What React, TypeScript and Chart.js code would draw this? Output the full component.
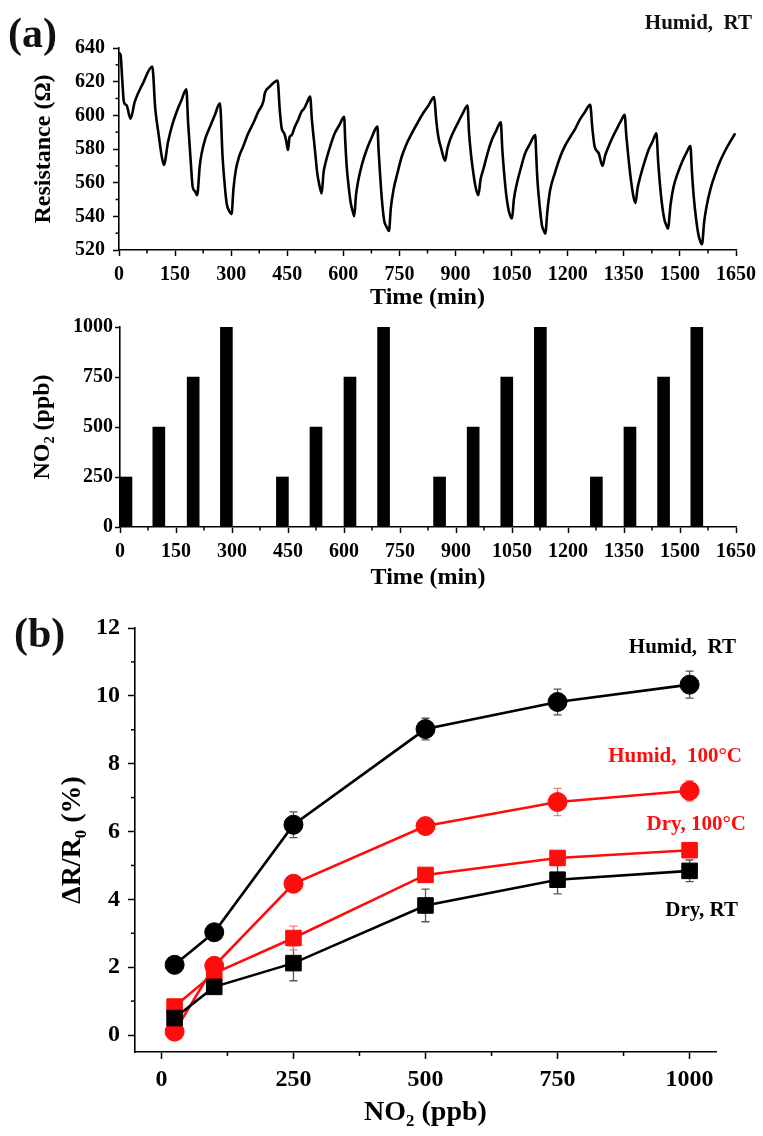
import React, { useEffect, useRef } from 'react';
import { Chart, registerables } from 'chart.js';
Chart.register(...registerables);

const FONT = '"Liberation Serif", "Times New Roman", "DejaVu Serif", serif';

// ---------- (a) top: resistance vs time ----------
const resTime = [
  0, 4, 9, 13, 20, 31, 42, 64, 89,
  97, 107, 114, 120, 131, 142, 154, 167, 180,
  185, 192, 197, 203, 209, 216, 221, 232, 243, 256, 270,
  277, 283, 288, 295, 301, 306, 312, 322, 332, 345, 359, 372, 386, 390, 403, 412, 424,
  430, 435, 442, 447, 452, 456, 462, 470, 479, 488, 495, 502, 511,
  516, 524, 530, 535, 542, 547, 552, 564, 577, 590, 602,
  605, 609, 615, 620, 625, 629, 634, 640, 650, 662, 676, 691,
  694, 698, 703, 709, 715, 722, 727, 734, 745, 756, 769, 783, 797, 814, 828, 843,
  848, 854, 862, 872, 878, 885, 896, 908, 919, 932,
  936, 941, 948, 954, 961, 967, 975, 985, 997, 1009, 1021,
  1025, 1030, 1036, 1042, 1046, 1051, 1056, 1064, 1075, 1086, 1099, 1113,
  1116, 1119, 1125, 1131, 1136, 1140, 1146, 1153, 1166, 1180, 1193, 1207, 1220, 1232, 1246, 1260,
  1266, 1272, 1283, 1293, 1300, 1309, 1320, 1332, 1342, 1352,
  1357, 1363, 1370, 1376, 1381, 1387, 1394, 1405, 1416, 1427, 1437,
  1442, 1448, 1454, 1459, 1464, 1468, 1475, 1483, 1494, 1506, 1517, 1528,
  1532, 1537, 1543, 1549, 1554, 1559, 1565, 1571, 1582, 1595, 1608, 1622, 1635, 1648,
];
const resOhm = [
  637, 636, 620, 608, 606, 598, 608, 619, 629,
  604, 587, 576, 570.5, 584, 594, 602, 609, 615.5,
  595, 572, 557.5, 555, 552.6, 570, 577.4, 587, 593, 600, 607.2,
  575.4, 558, 547.6, 543, 541.3, 556, 567, 576, 581.4, 589, 595.3, 602, 608.2, 613.2, 617, 619, 620.7,
  603, 592.3, 589.3, 585, 579.4, 587, 588.3, 593, 597.3, 602.2, 604, 607.2, 611.2,
  597, 579.4, 566, 559.5, 553.6, 566, 571.5, 581, 589.3, 594.5, 599.2,
  585, 569.4, 556, 547.6, 543, 540.1, 553, 561.5, 571, 579.4, 587, 593.3,
  580, 565.5, 550, 537.7, 534, 531.3, 545, 555.6, 566, 575.4, 583, 589.3, 595, 601.5, 606, 610.8,
  598, 587.3, 580, 573, 580, 585.3, 591, 596.3, 601, 605.8,
  590, 577.4, 565, 557, 552.6, 562, 568.5, 577, 585.3, 591, 595.9,
  580, 565.5, 552, 543.6, 540.5, 538.7, 550, 559.5, 569, 577.4, 583, 588.3,
  575, 561.5, 546, 534.7, 531.5, 529.7, 544, 555.6, 566, 575.4, 582, 587.3, 592, 597.3, 602, 606.2,
  592, 581.4, 577.4, 569.9, 576, 581.4, 587, 592.3, 596.5, 600.3,
  587, 573.4, 560, 551.5, 548, 557, 563.5, 572, 579.4, 584.5, 589.3,
  572, 555.6, 544, 537.7, 534.5, 532.7, 547, 557.5, 565.5, 572.4, 577.5, 581.8,
  567, 551.6, 539, 529.7, 525.5, 523.4, 537, 545.6, 556.5, 565.5, 573, 579.4, 584.5, 589.3,
];
const timeTicks = [0, 150, 300, 450, 600, 750, 900, 1050, 1200, 1350, 1500, 1650];
const timeMinor = [75, 225, 375, 525, 675, 825, 975, 1125, 1275, 1425, 1575];
const resTicks = [520, 540, 560, 580, 600, 620, 640];
const resMinor = [530, 550, 570, 590, 610, 630];

// ---------- (a) middle: NO2 pulses ----------
const pulseTime = [16, 104, 196, 285, 435, 525, 616, 706, 856, 946, 1036, 1126, 1276, 1366, 1456, 1545];
const pulsePpb = [250, 500, 750, 1000, 250, 500, 750, 1000, 250, 500, 750, 1000, 250, 500, 750, 1000];
const ppbTicks = [0, 250, 500, 750, 1000];

// ---------- (b) response ----------
const no2Levels = [25, 100, 250, 500, 750, 1000];
const humidRT = [2.07, 3.03, 6.2, 9.02, 9.82, 10.33];
const humidRTErr = [0.22, 0.12, 0.38, 0.32, 0.38, 0.4];
const humid100 = [0.1, 2.04, 4.46, 6.16, 6.87, 7.2];
const humid100Err = [0.08, 0.15, 0.15, 0.12, 0.4, 0.3];
const dry100 = [0.84, 1.82, 2.86, 4.72, 5.22, 5.45];
const dry100Err = [0.1, 0.1, 0.35, 0.12, 0.12, 0.12];
const dryRT = [0.5, 1.42, 2.12, 3.82, 4.58, 4.84];
const dryRTErr = [0.1, 0.1, 0.52, 0.48, 0.42, 0.32];
const no2Ticks = [0, 250, 500, 750, 1000];
const no2Minor = [125, 375, 625, 875];
const respTicks = [0, 2, 4, 6, 8, 10, 12];
const respMinor = [1, 3, 5, 7, 9, 11];

const font = (size: number) => ({ family: FONT, size, weight: 'bold' as const });

const minorTicksPlugin = {
  id: 'minorTicks',
  afterDraw(chart: any, _args: any, opts: any) {
    const ctx = chart.ctx;
    (opts.list || []).forEach((m: any) => {
      const s = chart.scales[m.axis];
      ctx.save();
      ctx.strokeStyle = '#000';
      ctx.lineWidth = 1.5;
      m.values.forEach((v: number) => {
        const p = s.getPixelForValue(v);
        ctx.beginPath();
        if (s.isHorizontal()) {
          ctx.moveTo(p, s.top);
          ctx.lineTo(p, s.top + m.len);
        } else {
          ctx.moveTo(s.right, p);
          ctx.lineTo(s.right - m.len, p);
        }
        ctx.stroke();
      });
      ctx.restore();
    });
  },
};

const labelsPlugin = {
  id: 'labels',
  afterDraw(chart: any, _args: any, opts: any) {
    const ctx = chart.ctx;
    (opts.items || []).forEach((it: any) => {
      ctx.save();
      ctx.font = `bold ${it.size}px ${FONT}`;
      ctx.fillStyle = it.color || '#000';
      ctx.textAlign = it.align || 'left';
      ctx.textBaseline = 'middle';
      ctx.fillText(it.text, it.x, it.y);
      ctx.restore();
    });
  },
};

const errorBarsPlugin = {
  id: 'errorBars',
  beforeDatasetsDraw(chart: any) {
    const ctx = chart.ctx;
    const ys = chart.scales.y;
    chart.data.datasets.forEach((ds: any, i: number) => {
      if (!ds.errors) return;
      const meta = chart.getDatasetMeta(i);
      ctx.save();
      ctx.strokeStyle = ds.errorColor;
      ctx.lineWidth = 1.3;
      meta.data.forEach((pt: any, j: number) => {
        const v = ds.data[j].y;
        const e = ds.errors[j];
        const y1 = ys.getPixelForValue(v + e);
        const y2 = ys.getPixelForValue(v - e);
        ctx.beginPath();
        ctx.moveTo(pt.x, y1);
        ctx.lineTo(pt.x, y2);
        ctx.moveTo(pt.x - 4, y1);
        ctx.lineTo(pt.x + 4, y1);
        ctx.moveTo(pt.x - 4, y2);
        ctx.lineTo(pt.x + 4, y2);
        ctx.stroke();
      });
      ctx.restore();
    });
  },
};

const axisBase = (tickSize: number, tl: number, pad: number) => ({
  grid: { drawOnChartArea: false, tickLength: tl, tickColor: '#000', tickWidth: 1.5 },
  border: { color: '#000', width: 1.6 },
  ticks: {
    font: font(tickSize),
    color: '#000',
    padding: pad,
    autoSkip: false,
    maxRotation: 0,
    callback: (v: any) => String(v),
  },
});

function topConfig(): any {
  return {
    type: 'line',
    data: {
      datasets: [
        {
          data: resTime.map((t, i) => ({ x: t, y: resOhm[i] })),
          borderColor: '#000',
          borderWidth: 2.6,
          pointRadius: 0,
          cubicInterpolationMode: 'monotone',
          fill: false,
        },
      ],
    },
    options: {
      responsive: false,
      animation: false,
      layout: { padding: { top: 48, right: 27, bottom: 0, left: 0 } },
      plugins: {
        legend: { display: false },
        tooltip: { enabled: false },
        minorTicks: {
          list: [
            { axis: 'x', values: timeMinor, len: 3.5 },
            { axis: 'y', values: resMinor, len: 3.5 },
          ],
        },
        labels: {
          items: [
            { text: '(a)', x: 8, y: 36, size: 42, color: '#111' },
            { text: 'Humid,  RT', x: 752, y: 24, size: 21, align: 'right', color: '#111' },
          ],
        },
      },
      scales: {
        x: {
          type: 'linear',
          min: 0,
          max: 1650,
          ...axisBase(20, 6, 7),
          afterBuildTicks: (s: any) => { s.ticks = timeTicks.map((v) => ({ value: v })); },
          afterFit: (s: any) => { s.height = 62; },
          title: { display: true, text: 'Time (min)', font: font(24), color: '#000', padding: { top: 0, bottom: 0 } },
        },
        y: {
          type: 'linear',
          min: 520,
          max: 640,
          ...axisBase(20, 6, 8),
          afterBuildTicks: (s: any) => { s.ticks = resTicks.map((v) => ({ value: v })); },
          afterFit: (s: any) => { s.width = 119; },
          title: { display: true, text: 'Resistance (Ω)', font: font(24), color: '#000', padding: { top: 29, bottom: 0 } },
        },
      },
    },
    plugins: [minorTicksPlugin, labelsPlugin],
  };
}

function midConfig(): any {
  return {
    type: 'bar',
    data: {
      datasets: [
        {
          data: pulseTime.map((t, i) => ({ x: t, y: pulsePpb[i] })),
          backgroundColor: '#000',
          borderWidth: 0,
          barThickness: 12,
        },
      ],
    },
    options: {
      responsive: false,
      animation: false,
      layout: { padding: { top: 15, right: 25, bottom: 0, left: 0 } },
      plugins: {
        legend: { display: false },
        tooltip: { enabled: false },
        minorTicks: { list: [{ axis: 'x', values: timeMinor, len: 3.5 }] },
      },
      scales: {
        x: {
          type: 'linear',
          min: 0,
          max: 1650,
          offset: false,
          ...axisBase(20, 6, 7),
          grid: { offset: false, drawOnChartArea: false, tickLength: 6, tickColor: '#000', tickWidth: 1.5 },
          afterBuildTicks: (s: any) => { s.ticks = timeTicks.map((v) => ({ value: v })); },
          afterFit: (s: any) => { s.height = 65; },
          title: { display: true, text: 'Time (min)', font: font(24), color: '#000', padding: { top: 0, bottom: 0 } },
        },
        y: {
          type: 'linear',
          min: 0,
          max: 1000,
          ...axisBase(20, 5, 2),
          afterBuildTicks: (s: any) => { s.ticks = ppbTicks.map((v) => ({ value: v })); },
          afterFit: (s: any) => { s.width = 120; },
          title: { display: true, text: 'NO₂ (ppb)', font: font(24), color: '#000', padding: { top: 28, bottom: 0 } },
        },
      },
    },
    plugins: [minorTicksPlugin],
  };
}

function series(vals: number[], errs: number[], color: string, errColor: string, style: string, r: number) {
  return {
    data: no2Levels.map((x, i) => ({ x, y: vals[i] })),
    errors: errs,
    errorColor: errColor,
    borderColor: color,
    backgroundColor: color,
    borderWidth: 2.6,
    pointStyle: style,
    pointRadius: r,
    pointBackgroundColor: color,
    pointBorderColor: color,
    pointBorderWidth: 1,
    tension: 0,
    fill: false,
  };
}

function bottomConfig(): any {
  const RED = '#ff0d0d';
  return {
    type: 'line',
    data: {
      datasets: [
        series(dryRT, dryRTErr, '#000', '#555', 'rect', 11),
        series(dry100, dry100Err, RED, '#f77', 'rect', 11),
        series(humid100, humid100Err, RED, '#f77', 'circle', 9.5),
        series(humidRT, humidRTErr, '#000', '#555', 'circle', 9.5),
      ],
    },
    options: {
      responsive: false,
      animation: false,
      layout: { padding: { top: 36, right: 47, bottom: 0, left: 0 } },
      plugins: {
        legend: { display: false },
        tooltip: { enabled: false },
        minorTicks: {
          list: [
            { axis: 'x', values: no2Minor, len: 4 },
            { axis: 'y', values: respMinor, len: 4 },
          ],
        },
        labels: {
          items: [
            { text: '(b)', x: 14, y: 44, size: 42, color: '#111' },
            { text: 'Humid,  RT', x: 736, y: 56, size: 21, align: 'right', color: '#000' },
            { text: 'Humid,  100°C', x: 742, y: 165, size: 21, align: 'right', color: RED },
            { text: 'Dry, 100°C', x: 746, y: 233, size: 21, align: 'right', color: RED },
            { text: 'Dry, RT', x: 738, y: 319, size: 21, align: 'right', color: '#000' },
          ],
        },
      },
      scales: {
        x: {
          type: 'linear',
          min: -50,
          max: 1050,
          ...axisBase(24, 7, 6),
          afterBuildTicks: (s: any) => { s.ticks = no2Ticks.map((v) => ({ value: v })); },
          afterFit: (s: any) => { s.height = 84; },
          title: { display: true, text: 'NO₂ (ppb)', font: font(28), color: '#000', padding: { top: 0, bottom: 6 } },
        },
        y: {
          type: 'linear',
          min: -0.5,
          max: 12,
          ...axisBase(24, 7, 8),
          afterBuildTicks: (s: any) => { s.ticks = respTicks.map((v) => ({ value: v })); },
          afterFit: (s: any) => { s.width = 135; },
          title: { display: true, text: 'ΔR/R₀ (%)', font: font(28), color: '#000', padding: { top: 56, bottom: 0 } },
        },
      },
    },
    plugins: [errorBarsPlugin, minorTicksPlugin, labelsPlugin],
  };
}

function ChartCanvas({ make, top, width, height }: { make: () => any; top: number; width: number; height: number }) {
  const ref = useRef<HTMLCanvasElement>(null);
  useEffect(() => {
    const chart = new Chart(ref.current as HTMLCanvasElement, make());
    return () => chart.destroy();
  }, []);
  return (
    <canvas
      ref={ref}
      width={width}
      height={height}
      style={{ position: 'absolute', left: 0, top, width, height, display: 'block' }}
    />
  );
}

export default function App() {
  return (
    <div style={{ position: 'absolute', left: 0, top: 0, width: 763, height: 1136, background: '#fff', overflow: 'hidden' }}>
      <ChartCanvas make={topConfig} top={0} width={763} height={312} />
      <ChartCanvas make={midConfig} top={312} width={763} height={280} />
      <ChartCanvas make={bottomConfig} top={592} width={763} height={544} />
    </div>
  );
}
